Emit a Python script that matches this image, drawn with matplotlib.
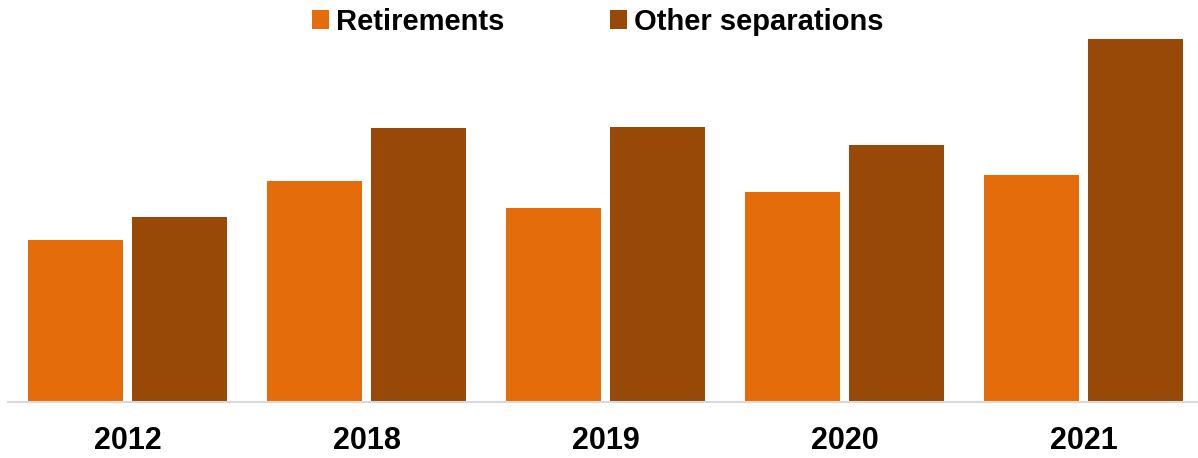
import matplotlib.pyplot as plt
import numpy as np

plt.rcParams['font.family'] = ['Liberation Sans', 'DejaVu Sans']

years = ['2012', '2018', '2019', '2020', '2021']
retirements = [162, 221, 194, 210, 227]
other_separations = [185, 274, 275, 257, 363]

c_ret = '#E46C0A'
c_oth = '#984807'

W, H = 1198, 458
fig = plt.figure(figsize=(W / 100, H / 100), dpi=100)
# axes spans x 8..1203 px, baseline at y=402 px
ax = fig.add_axes([8 / W, (H - 402) / H, 1195 / W, 402 / H])

x = np.arange(len(years))
bw = 0.397
off = 0.218
ax.bar(x - off, retirements, bw, color=c_ret, label='Retirements')
ax.bar(x + off, other_separations, bw, color=c_oth, label='Other separations')

ax.set_xlim(-0.5, len(years) - 0.5)
ax.set_ylim(0, 402)
ax.set_yticks([])
ax.set_xticks(x)
ax.set_xticklabels(years, fontsize=22, fontweight='bold')
ax.tick_params(axis='x', length=0, pad=17)
for s in ['top', 'right', 'left']:
    ax.spines[s].set_visible(False)
ax.spines['bottom'].set_color('#D9D9D9')
ax.spines['bottom'].set_linewidth(1.5)

leg = ax.legend(loc='upper center', bbox_to_anchor=(0.4935, 1.017), ncol=2,
                frameon=False, prop={'size': 21, 'weight': 'bold'},
                handlelength=0.58, handleheight=0.58, handletextpad=0.24,
                columnspacing=3.6, borderpad=0)

fig.savefig('out.png', dpi=100)
